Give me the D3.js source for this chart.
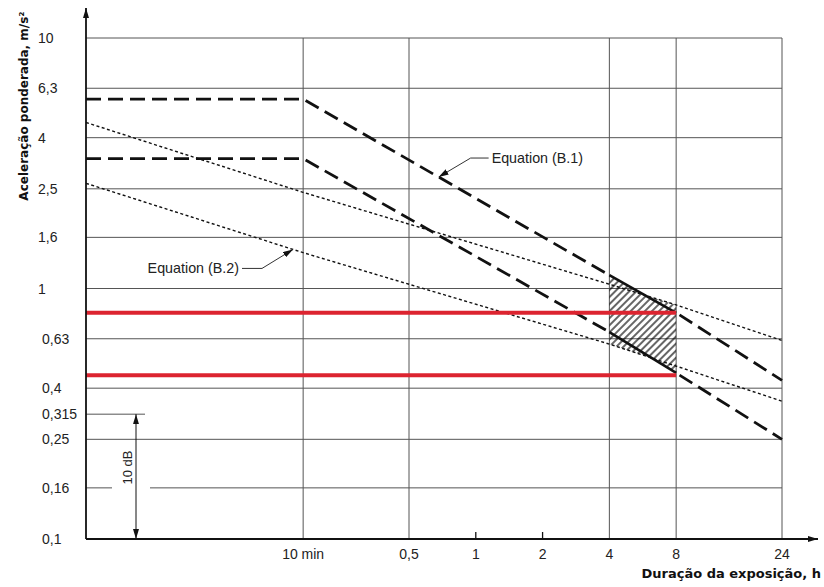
<script src="https://cdn.jsdelivr.net/npm/d3@7"></script>
<style>
	body { margin:0; background:#fff; }
	text { font-family:"Liberation Sans", Arial, sans-serif; fill:#222; }
	.title { font-family:"DejaVu Sans", Verdana, sans-serif; font-weight:bold; fill:#111; }
</style>
<svg id="svgelement" width="824" height="587"></svg>
<script>
	// exposure duration (h) and weighted acceleration (m/s2)
	var tMin = 0.0175;
	var times = [tMin, 1/6, 4, 8, 24];
	var eqB1Upper = [5.7, 5.7, 1.13, 0.8, 0.43];
	var eqB1Lower = [3.3, 3.3, 0.67, 0.46, 0.25];
	var eqB2Upper = [4.6, 2.42, 1.04, 0.86, 0.62];
	var eqB2Lower = [2.63, 1.39, 0.6, 0.49, 0.355];
	var redLevels = [0.8, 0.45];
	var redEnd = 8;

	var yTicks = [10, 6.3, 4, 2.5, 1.6, 1, 0.63, 0.4, 0.315, 0.25, 0.16, 0.1];
	var yTickLabels = ["10", "6,3", "4", "2,5", "1,6", "1", "0,63", "0,4", "0,315", "0,25", "0,16", "0,1"];
	var xTicks = [1/6, 0.5, 1, 2, 4, 8, 24];
	var xTickLabels = ["10 min", "0,5", "1", "2", "4", "8", "24"];
	var xGrid = [1/6, 0.5, 4, 8, 24];

	var X0 = 86, X1 = 782, Y0 = 539, Y1 = 38;
	var x = d3.scaleLog().domain([tMin, 24]).range([X0, X1]);
	var y = d3.scaleLog().domain([0.1, 10]).range([Y0, Y1]);
	var svg = d3.select("#svgelement");

	// log-log interpolation along a line
	function valueAt(vals, t) {
		for (var i = 0; i < times.length - 1; i++) {
			if (t >= times[i] && t <= times[i+1]) {
				var f = (Math.log(t) - Math.log(times[i])) / (Math.log(times[i+1]) - Math.log(times[i]));
				return Math.exp(Math.log(vals[i]) + f * (Math.log(vals[i+1]) - Math.log(vals[i])));
			}
		}
		return vals[vals.length-1];
	}

	var defs = svg.append("defs");
	defs.append("pattern").attr("id","hatch").attr("patternUnits","userSpaceOnUse")
		.attr("width",5).attr("height",5).attr("patternTransform","rotate(45)")
		.append("line").attr("x1",1).attr("y1",0).attr("x2",1).attr("y2",5)
		.attr("stroke","#000").attr("stroke-width",1.2);
	defs.append("marker").attr("id","arr").attr("viewBox","0 0 10 6").attr("refX",10).attr("refY",3)
		.attr("markerWidth",10).attr("markerHeight",6).attr("markerUnits","userSpaceOnUse").attr("orient","auto-start-reverse")
		.append("path").attr("d","M0,0L10,3L0,6Z").attr("fill","#111");

	// grid
	var grid = svg.append("g").attr("stroke","#555").attr("stroke-width",1);
	grid.selectAll(".h").data(yTicks.filter(function(d){return d!=0.1 && d!=0.315;}))
		.enter().append("line")
		.attr("x1",X0).attr("x2",X1)
		.attr("y1",function(d){return y(d);}).attr("y2",function(d){return y(d);});
	grid.append("line").attr("x1",X0).attr("x2",X0+59).attr("y1",y(0.315)).attr("y2",y(0.315));
	grid.selectAll(".v").data(xGrid).enter().append("line")
		.attr("x1",function(d){return x(d);}).attr("x2",function(d){return x(d);})
		.attr("y1",Y1).attr("y2",Y0);
	svg.selectAll(".tk").data([1,2]).enter().append("line")
		.attr("x1",function(d){return x(d);}).attr("x2",function(d){return x(d);})
		.attr("y1",Y0-7).attr("y2",Y0).attr("stroke","#111").attr("stroke-width",1.3);

	// 10 dB dimension
	svg.append("rect").attr("x",X0+26).attr("y",y(0.16)-2).attr("width",38).attr("height",4).attr("fill","#fff");
	svg.append("line").attr("x1",X0+50).attr("x2",X0+50).attr("y1",y(0.315)).attr("y2",y(0.1))
		.attr("stroke","#111").attr("stroke-width",1)
		.attr("marker-start","url(#arr)").attr("marker-end","url(#arr)");
	svg.append("text").attr("transform","translate("+(X0+46)+","+((y(0.16)+y(0.25))/2+4)+") rotate(-90)")
		.attr("text-anchor","middle").attr("font-size",13).text("10 dB");

	// hatched caution zone 4-8 h
	var ts = d3.range(0,41).map(function(i){return 4*Math.pow(2,i/40);});
	svg.append("path").datum(ts)
		.attr("d", d3.area()
			.x(function(t){return x(t);})
			.y0(function(t){return y(Math.min(valueAt(eqB1Lower,t),valueAt(eqB2Lower,t)));})
			.y1(function(t){return y(Math.max(valueAt(eqB1Upper,t),valueAt(eqB2Upper,t)));}))
		.attr("fill","url(#hatch)").attr("stroke","none");

	var line = d3.line().x(function(d){return x(d[0]);}).y(function(d){return y(d[1]);});
	function pts(vals, a, b) {
		return times.map(function(t,i){return [t, vals[i]];}).filter(function(d){return d[0]>=a && d[0]<=b;});
	}

	// equation B.2 (dotted)
	[eqB2Upper, eqB2Lower].forEach(function(vals) {
		svg.append("path").attr("d", line(pts(vals, 0, 100)))
			.attr("fill","none").attr("stroke","#111").attr("stroke-width",1.4).attr("stroke-dasharray","3,2.5");
	});
	// equation B.1 (dashed, solid between 4 and 8 h)
	[eqB1Upper, eqB1Lower].forEach(function(vals) {
		svg.append("path").attr("d", line(pts(vals, 0, 4)))
			.attr("fill","none").attr("stroke","#111").attr("stroke-width",2.8).attr("stroke-dasharray","15,7");
		svg.append("path").attr("d", line(pts(vals, 4, 8)))
			.attr("fill","none").attr("stroke","#111").attr("stroke-width",2.6);
		svg.append("path").attr("d", line(pts(vals, 8, 100)))
			.attr("fill","none").attr("stroke","#111").attr("stroke-width",2.8).attr("stroke-dasharray","15,7")
			.attr("stroke-dashoffset",-4);
	});

	// red levels
	svg.selectAll(".red").data(redLevels).enter().append("line")
		.attr("x1",X0).attr("x2",x(redEnd))
		.attr("y1",function(d){return y(d);}).attr("y2",function(d){return y(d);})
		.attr("stroke","#dc2430").attr("stroke-width",4);

	// axes with arrows
	svg.append("line").attr("x1",X0).attr("x2",X0).attr("y1",Y0).attr("y2",8)
		.attr("stroke","#111").attr("stroke-width",1.8).attr("marker-end","url(#arr)");
	svg.append("line").attr("x1",X0).attr("x2",818).attr("y1",Y0).attr("y2",Y0)
		.attr("stroke","#111").attr("stroke-width",1.8).attr("marker-end","url(#arr)");

	// tick labels
	svg.selectAll(".yl").data(yTicks).enter().append("text")
		.attr("x",function(d){return d<1 ? 42 : 38;})
		.attr("y",function(d){return y(d)+5;})
		.attr("font-size",14)
		.text(function(d,i){return yTickLabels[i];});
	svg.selectAll(".xl").data(xTicks).enter().append("text")
		.attr("x",function(d){return x(d);}).attr("y",Y0+20)
		.attr("text-anchor","middle").attr("font-size",14)
		.text(function(d,i){return xTickLabels[i];});

	// equation labels
	function leader(vals, t, dx, dy, len, label, anchor) {
		var tx = x(t), ty = y(valueAt(vals, t));
		svg.append("path")
			.attr("d","M"+(tx+dx+len)+","+(ty+dy)+"L"+(tx+dx)+","+(ty+dy)+"L"+tx+","+ty)
			.attr("fill","none").attr("stroke","#333").attr("stroke-width",1)
			.attr("marker-end","url(#arr)");
		svg.append("text").attr("x",tx+dx+len+(len>0?3:-3)).attr("y",ty+dy+5)
			.attr("text-anchor",anchor).attr("font-size",14.3).text(label);
	}
	leader(eqB1Upper, 0.68, 32, -19, 18, "Equation (B.1)", "start");
	leader(eqB2Lower, 0.15, -31, 19, -20, "Equation (B.2)", "end");

	// axis titles
	svg.append("text").attr("class","title").attr("font-size",12)
		.attr("transform","translate(28,106) rotate(-90)").attr("text-anchor","middle")
		.text("Aceleração ponderada, m/s²");
	svg.append("text").attr("class","title").attr("font-size",13).attr("x",821).attr("y",578)
		.attr("text-anchor","end").text("Duração da exposição, h");
</script>
